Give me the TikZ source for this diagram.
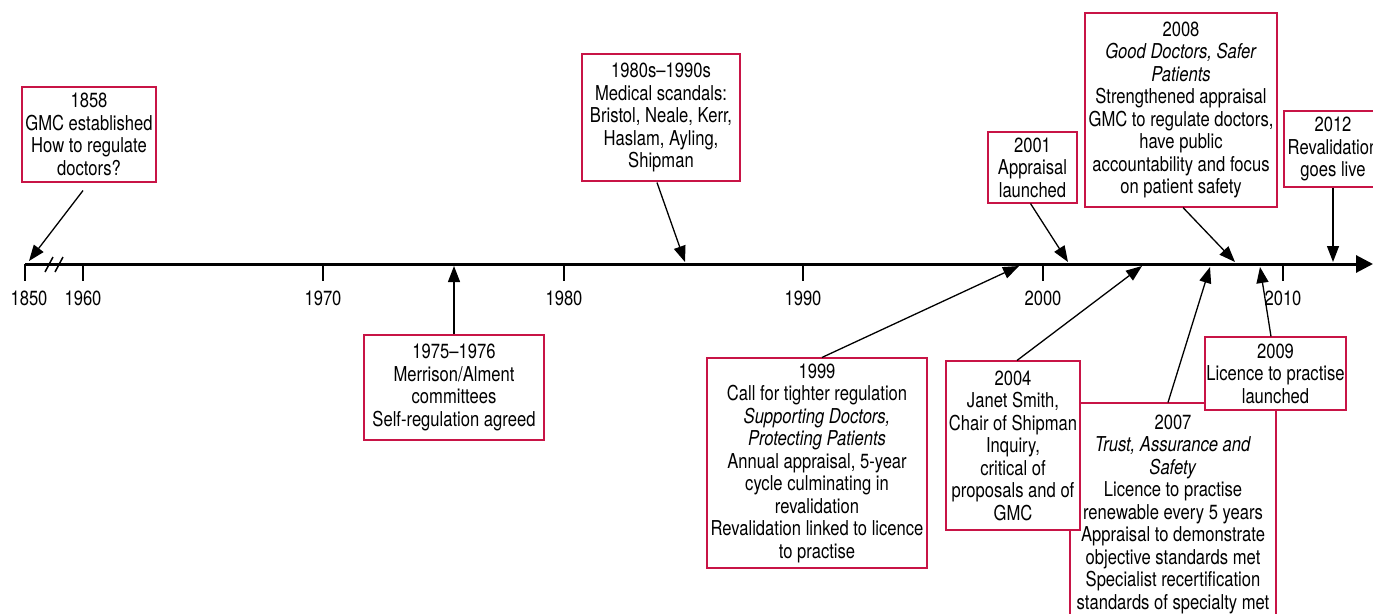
\documentclass[tikz,border=0pt]{standalone}
\usepackage{fontspec}
\setmainfont{TeX Gyre Heros}[FakeStretch=0.81]
\usetikzlibrary{arrows.meta,calc}
\definecolor{boxred}{RGB}{200,20,70}
\begin{document}
\begin{tikzpicture}[x=1pt,y=-1pt,
  box/.style={draw=boxred,line width=1.1pt,fill=white,align=center,inner sep=0pt,font=\fontsize{20.5}{22.5}\selectfont},
  conn/.style={line width=1.3pt,-{Triangle[length=16pt,width=12pt]}},
  axisline/.style={line width=3pt,-{Triangle[length=17pt,width=17pt]}},
  tickmark/.style={line width=1.2pt},
  ticklab/.style={font=\fontsize{20.5}{22.5}\selectfont,inner sep=0pt}]
\useasboundingbox (0,0) rectangle (1373,613);
\clip (0,0) rectangle (1373,613);

% axis
\coordinate (axstart) at (25,264);
\coordinate (axend) at (1373,264);
\draw[axisline] (axstart) -- (axend);
\draw[line width=1.3pt] (25,264) -- (25,281);
\draw[line width=1.5pt] (45,272) -- (53,257);
\draw[line width=1.5pt] (55,272) -- (63,257);
\foreach \yr/\xx in {1960/83,1970/323,1980/564,1990/803,2000/1043,2010/1283}{
  \draw[tickmark] (\xx,264) -- (\xx,281);
  \node[ticklab] (lab\yr) at (\xx,298) {\yr};
}
\node[ticklab] (lab1850) at (29,298) {1850};

% boxes above
\node[box,minimum width=134pt,minimum height=95pt] (b1858) at (89,134.5)
  {1858\\GMC established\\How to regulate\\doctors?};
\node[box,minimum width=158pt,minimum height=127pt] (b1980) at (661,117.5)
  {1980s–1990s\\Medical scandals:\\Bristol, Neale, Kerr,\\Haslam, Ayling,\\Shipman};
\node[box,minimum width=89pt,minimum height=71pt] (b2001) at (1032.5,167.5)
  {2001\\Appraisal\\launched};
\node[box,minimum width=192pt,minimum height=194pt] (b2008) at (1181,110)
  {2008\\\textit{Good Doctors, Safer}\\\textit{Patients}\\Strengthened appraisal\\GMC to regulate doctors,\\have public\\accountability and focus\\on patient safety};
\node[box,minimum width=98pt,minimum height=76pt] (b2012) at (1333,149)
  {2012\\Revalidation\\goes live};

% boxes below
\node[box,minimum width=180pt,minimum height=105pt] (b1975) at (454,387.5)
  {1975–1976\\Merrison/Alment\\committees\\Self-regulation agreed};
\node[box,minimum width=220pt,minimum height=210pt] (b1999) at (817,463)
  {1999\\Call for tighter regulation\\\textit{Supporting Doctors,}\\\textit{Protecting Patients}\\Annual appraisal, 5-year\\cycle culminating in\\revalidation\\Revalidation linked to licence\\to practise};
\node[box,minimum width=206pt,minimum height=222pt] (b2007) at (1173,514)
  {2007\\\textit{Trust, Assurance and}\\\textit{Safety}\\Licence to practise\\renewable every 5 years\\Appraisal to demonstrate\\objective standards met\\Specialist recertification\\standards of specialty met};
\node[box,minimum width=134pt,minimum height=169pt] (b2004) at (1013,445.5)
  {2004\\Janet Smith,\\Chair of Shipman\\Inquiry,\\critical of\\proposals and of\\GMC};
\node[box,minimum width=141pt,minimum height=73pt] (b2009) at (1275.5,373.5)
  {2009\\Licence to practise\\launched};

% arrow targets on the axis
\coordinate (t1858) at (29,261);
\coordinate (t1980) at (685,262);
\coordinate (t2001) at (1068,262);
\coordinate (t2008) at (1235,262);
\coordinate (t2012) at (1333,262);
\coordinate (t1975) at (454,266);
\coordinate (t1999) at (1019,266);
\coordinate (t2004) at (1142,266);
\coordinate (t2007) at (1210,267);
\coordinate (t2009) at (1260,267);

\draw[conn] ([xshift=-6pt,yshift=-8pt]b1858.south) -- (t1858);
\draw[conn] ([xshift=-4pt,yshift=-1pt]b1980.south) -- (t1980);
\draw[conn] ([xshift=-2pt]b2001.south) -- (t2001);
\draw[conn] ([xshift=2pt]b2008.south) -- (t2008);
\draw[conn] (b2012.south) -- (t2012);
\draw[conn] (b1975.north) -- (t1975);
\draw[conn] ([xshift=5pt]b1999.north) -- (t1999);
\draw[conn] ([xshift=4pt]b2004.north) -- (t2004);
\draw[conn] ([xshift=-5pt]b2007.north) -- (t2007);
\draw[conn] ([xshift=-4.5pt]b2009.north) -- (t2009);
\end{tikzpicture}
\end{document}
